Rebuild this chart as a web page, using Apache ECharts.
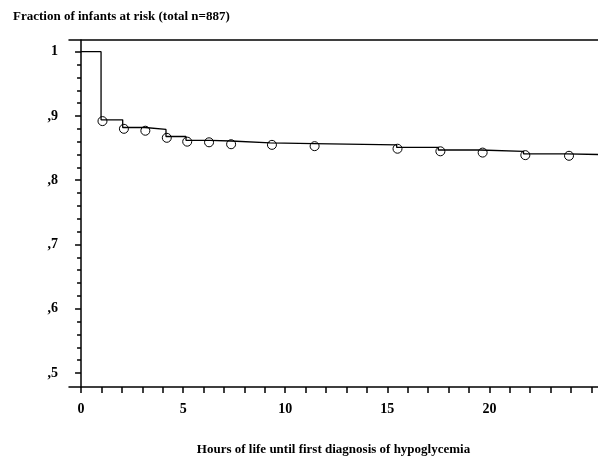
<!DOCTYPE html>
<html>
<head>
<meta charset="utf-8">
<script src="https://cdn.jsdelivr.net/npm/echarts@6/dist/echarts.min.js"></script>
<style>
  html, body { margin: 0; padding: 0; background: #fff; }
  #chart { width: 598px; height: 456px; }
</style>
</head>
<body>
<div id="chart"></div>
<script>
// step curve: time (hours) and fraction still at risk after that time
const stepTimes  = [0, 0.98, 2.04, 3.13, 4.16, 5.14, 6.32, 7.35, 9.26, 11.38, 15.46, 17.5, 19.54, 21.67, 23.79, 25.32];
const stepValues = [1, 0.894, 0.882, 0.879, 0.868, 0.862, 0.861, 0.858, 0.857, 0.855, 0.851, 0.847, 0.845, 0.841, 0.840, 0.840];

// open circle markers
const markTimes  = [1.05, 2.1, 3.15, 4.2, 5.2, 6.27, 7.35, 9.35, 11.44, 15.5, 17.6, 19.67, 21.76, 23.9];
const markValues = [0.892, 0.880, 0.877, 0.866, 0.860, 0.859, 0.856, 0.855, 0.853, 0.849, 0.845, 0.843, 0.839, 0.838];

// axis labels
const xTickLabels = [0, 5, 10, 15, 20];
const yTickLabels = [0.5, 0.6, 0.7, 0.8, 0.9, 1];

const xTicks = [];
for (let i = 0; i <= 25; i++) xTicks.push(i);
const yMinorTicks = [];
for (let i = 25; i <= 50; i++) yMinorTicks.push(i / 50);

const FONT = '"Liberation Serif", "Times New Roman", serif';
const axisLine = { show: true, lineStyle: { color: '#000', width: 1.5 } };

const chart = echarts.init(document.getElementById('chart'));

const option = {
  backgroundColor: '#fff',
  animation: false,
  title: {
    text: 'Fraction of infants at risk (total n=887)',
    left: 8,
    top: 5,
    textStyle: { fontFamily: FONT, fontWeight: 'bold', fontSize: 13, color: '#000' }
  },
  grid: { left: 69, right: 0, top: 40, bottom: 69, outerBoundsMode: 'none', containLabel: false },
  xAxis: [
    {
      type: 'value',
      min: -0.59,
      max: 25.32,
      position: 'bottom',
      axisLine: axisLine,
      splitLine: { show: false },
      axisTick: { show: true, customValues: xTicks, length: 6, lineStyle: { color: '#000', width: 1.5 } },
      axisLabel: {
        customValues: xTickLabels,
        margin: 15,
        fontFamily: FONT, fontWeight: 'bold', fontSize: 14, color: '#000'
      },
      name: 'Hours of life until first diagnosis of hypoglycemia',
      nameLocation: 'middle',
      nameGap: 56,
      nameTextStyle: { fontFamily: FONT, fontWeight: 'bold', fontSize: 13, color: '#000' }
    },
    {
      type: 'value',
      min: -0.59,
      max: 25.32,
      position: 'top',
      axisLine: axisLine,
      axisTick: { show: false },
      axisLabel: { show: false },
      splitLine: { show: false }
    }
  ],
  yAxis: [
    {
      type: 'value',
      min: 0.4782,
      max: 1.0182,
      axisLine: axisLine,
      splitLine: { show: false },
      axisTick: { show: true, customValues: yTickLabels, length: 6, lineStyle: { color: '#000', width: 1.5 } },
      axisLabel: {
        customValues: yTickLabels,
        margin: 11,
        formatter: v => (v === 1 ? '1' : ',' + Math.round(v * 10)),
        fontFamily: FONT, fontWeight: 'bold', fontSize: 14, color: '#000'
      }
    },
    {
      type: 'value',
      min: 0.4782,
      max: 1.0182,
      position: 'left',
      axisLine: { show: false },
      splitLine: { show: false },
      axisTick: { show: true, customValues: yMinorTicks, length: 4, lineStyle: { color: '#000', width: 1.5 } },
      axisLabel: { show: false }
    }
  ],
  series: [
    {
      type: 'line',
      step: 'end',
      symbol: 'none',
      data: stepTimes.map((t, i) => [t, stepValues[i]]),
      lineStyle: { color: '#000', width: 1.3 }
    },
    {
      type: 'scatter',
      symbol: 'circle',
      symbolSize: 9,
      z: 3,
      data: markTimes.map((t, i) => [t, markValues[i]]),
      itemStyle: { color: 'rgba(255,255,255,0)', borderColor: '#000', borderWidth: 1, opacity: 1 }
    }
  ]
};

chart.setOption(option);
</script>
</body>
</html>
